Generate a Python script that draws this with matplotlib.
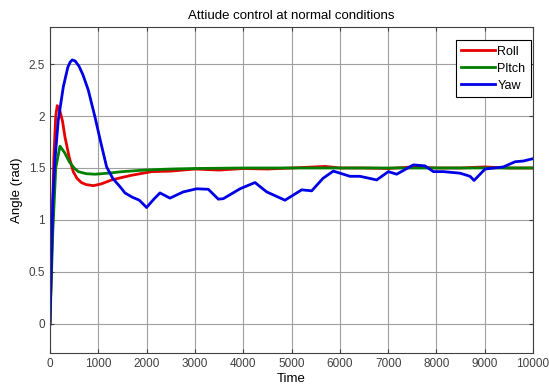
import matplotlib
matplotlib.use("Agg")
import matplotlib.pyplot as plt

plt.rcParams["font.family"] = ["Liberation Sans", "DejaVu Sans"]

# Dữ liệu
roll_t = [0, 40, 80, 120, 150, 200, 260, 310, 400, 482, 560, 650, 750, 897,
          1050, 1277, 1500, 1691, 2105, 2500, 3000, 3500, 4000, 4500, 5000,
          5700, 6000, 6500, 7000, 7500, 8000, 8500, 9000, 9500, 10000]
roll_v = [0, 0.8, 1.6, 2.0, 2.1, 2.06, 1.95, 1.80, 1.6, 1.465, 1.4, 1.36,
          1.34, 1.33, 1.345, 1.385, 1.41, 1.43, 1.465, 1.47, 1.49, 1.48,
          1.495, 1.49, 1.5, 1.515, 1.5, 1.5, 1.495, 1.51, 1.5, 1.5, 1.51,
          1.5, 1.5]

pitch_t = [0, 60, 120, 207, 300, 400, 500, 586, 750, 932, 1200, 1500, 1967,
           2500, 3000, 4000, 10000]
pitch_v = [0, 0.9, 1.5, 1.71, 1.65, 1.56, 1.5, 1.465, 1.445, 1.44, 1.45,
           1.465, 1.48, 1.49, 1.495, 1.5, 1.5]

yaw_t = [0, 60, 104, 172, 276, 370, 420, 462, 520, 600, 680, 793, 932, 1050,
         1173, 1300, 1450, 1553, 1700, 1850, 2000, 2150, 2277, 2484, 2760,
         3036, 3278, 3485, 3589, 3934, 4244, 4486, 4865, 5211, 5418, 5650,
         5865, 6004, 6211, 6418, 6763, 7004, 7177, 7522, 7764, 7936, 8143,
         8489, 8696, 8778, 9006, 9385, 9627, 9799, 10000]
yaw_v = [0, 1.2, 1.58, 1.96, 2.28, 2.47, 2.52, 2.54, 2.53, 2.48, 2.4, 2.25,
         1.99, 1.75, 1.51, 1.4, 1.32, 1.26, 1.22, 1.19, 1.12, 1.2, 1.26, 1.21,
         1.27, 1.30, 1.295, 1.2, 1.205, 1.30, 1.36, 1.27, 1.19, 1.29, 1.28,
         1.40, 1.47, 1.45, 1.42, 1.42, 1.385, 1.465, 1.44, 1.53, 1.52, 1.465,
         1.465, 1.45, 1.42, 1.38, 1.49, 1.51, 1.56, 1.567, 1.59]

fig = plt.figure(figsize=(5.49, 3.92), dpi=100)
ax = fig.add_axes([0.091, 0.0995, 0.880, 0.8315])

ax.plot(roll_t, roll_v, color="#e60000", linewidth=2, label="Roll")
ax.plot(pitch_t, pitch_v, color="#008000", linewidth=2, label="Pltch")
ax.plot(yaw_t, yaw_v, color="#0000e6", linewidth=2, label="Yaw")

ax.set_xlim(0, 10000)
ax.set_ylim(-0.28, 2.856)
ax.set_xticks(range(0, 10001, 1000))
ax.set_yticks([0, 0.5, 1, 1.5, 2, 2.5])
ax.set_yticklabels(["0", "0.5", "1", "1.5", "2", "2.5"])

ax.grid(True, color="#a0a0a0", linewidth=0.8)
ax.tick_params(direction="in", length=3, labelsize=8.5, colors="#404040",
               top=True, right=True, labeltop=False, labelright=False)
for s in ax.spines.values():
    s.set_color("#404040")
    s.set_linewidth(0.8)

ax.set_title("Attiude control at normal conditions", fontsize=9.5, pad=6)
ax.set_xlabel("Time", fontsize=9.5, labelpad=2)
ax.set_ylabel("Angle (rad)", fontsize=9.5, labelpad=4)

leg = ax.legend(loc="upper right", fontsize=9, fancybox=False,
                edgecolor="black", framealpha=1, handlelength=2.7,
                handletextpad=0.2, borderpad=0.45, labelspacing=0.4,
                borderaxespad=0, bbox_to_anchor=(0.996, 0.96))
leg.get_frame().set_linewidth(0.8)

fig.savefig("out.png", dpi=100)
